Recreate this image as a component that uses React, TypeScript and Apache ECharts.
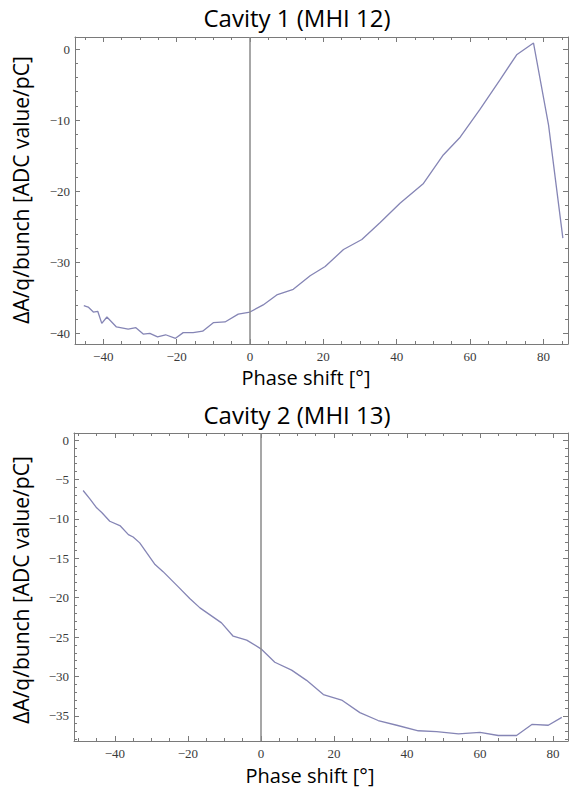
import React, { useEffect, useRef } from "react";
import * as echarts from "echarts";

// ---- Data ----
const cav1Phase = [-45.3, -44.1, -42.7, -41.5, -40.4, -39.0, -36.4, -33.2, -31.1, -29.1, -27.3, -25.2, -23.0, -20.3, -18.2, -15.5, -12.9, -10.0, -6.8, -3.2, 0, 3.6, 7.3, 11.8, 16.4, 20.5, 25.5, 30.5, 35.5, 40.9, 47.3, 52.7, 57.3, 62.7, 68.2, 72.7, 77.3, 81.4, 85.3];
const cav1Signal = [-36.1, -36.3, -37.0, -36.9, -38.6, -37.7, -39.1, -39.4, -39.2, -40.1, -40.0, -40.5, -40.2, -40.7, -39.9, -39.9, -39.7, -38.5, -38.4, -37.3, -37.0, -36.0, -34.6, -33.8, -31.9, -30.6, -28.2, -26.8, -24.4, -21.7, -18.9, -14.9, -12.4, -8.5, -4.3, -0.8, 0.85, -10.7, -26.6];

const cav2Phase = [-48.7, -46.8, -45.0, -43.6, -41.4, -38.5, -36.3, -35.0, -33.2, -29.0, -26.8, -22.7, -19.5, -16.7, -10.8, -7.6, -3.9, 0, 3.8, 8.4, 12.5, 17.1, 22.1, 27.1, 32.1, 37.2, 43.1, 48.1, 54.1, 60.0, 65.0, 70.0, 74.2, 78.7, 82.4];
const cav2Signal = [-6.4, -7.5, -8.6, -9.2, -10.3, -10.9, -12.0, -12.3, -13.05, -15.8, -16.7, -18.6, -20.1, -21.3, -23.2, -24.9, -25.4, -26.5, -28.2, -29.2, -30.5, -32.3, -33.0, -34.6, -35.6, -36.2, -36.9, -37.0, -37.3, -37.1, -37.5, -37.5, -36.1, -36.2, -35.2];

// Tick labels
const xTickLabels1 = [-40, -20, 0, 20, 40, 60, 80];
const yTickLabels1 = [-40, -30, -20, -10, 0];
const xTickLabels2 = [-40, -20, 0, 20, 40, 60, 80];
const yTickLabels2 = [-35, -30, -25, -20, -15, -10, -5, 0];

const titles = ["Cavity 1 (MHI 12)", "Cavity 2 (MHI 13)"];
const xName = "Phase shift [°]";
const yName = "ΔA/q/bunch [ADC value/pC]";

// Axis extents
const xRange1 = [-47.7, 86.7];
const yRange1 = [-41.5, 1.7];
const xRange2 = [-51.2, 84.1];
const yRange2 = [-38.2, 0.9];

function range(a: number, b: number, step: number) {
  const out: number[] = [];
  for (let v = a; v <= b + 1e-9; v += step) out.push(Math.round(v * 1000) / 1000);
  return out;
}

const xMinor1 = range(-45, 85, 5);
const yMinor1 = range(-40, 0, 2);
const xMinor2 = range(-50, 80, 5);
const yMinor2 = range(-38, 0, 1);

const FRAME = "#7a7a7a";
const LINE = "#8585b5";
const SERIF = "'Liberation Serif', 'DejaVu Serif', 'Times New Roman', serif";
const SANS = "'Open Sans', 'Noto Sans', sans-serif";
const fmt = (v: number) => String(v).replace("-", "\u2212");

function axesFor(
  grid: number,
  dim: "x" | "y",
  ext: number[],
  labels: number[],
  minor: number[]
) {
  const positions = dim === "x" ? ["bottom", "top"] : ["left", "right"];
  const res: any[] = [];
  positions.forEach((pos, pi) => {
    [true, false].forEach((major) => {
      res.push({
        type: "value",
        gridIndex: grid,
        position: pos,
        offset: 0,
        min: ext[0],
        max: ext[1],
        splitLine: { show: false },
        axisLine: { show: major, onZero: false, lineStyle: { color: FRAME, width: 1 } },
        axisTick: {
          show: true,
          inside: true,
          length: major ? 5 : 3,
          customValues: major ? labels : minor,
          lineStyle: { color: FRAME, width: 1 },
        },
        axisLabel: {
          show: major && pi === 0,
          customValues: labels,
          formatter: fmt,
          fontFamily: SERIF,
          fontSize: 13,
          color: "#3a3a3a",
          margin: dim === "x" ? 6 : 5,
        },
      });
    });
  });
  return res;
}

export default function App() {
  const ref = useRef<HTMLDivElement>(null);
  useEffect(() => {
    if (!ref.current) return;
    const chart = echarts.init(ref.current, null, { renderer: "svg" });
    const xAxes = [
      ...axesFor(0, "x", xRange1, xTickLabels1, xMinor1),
      ...axesFor(1, "x", xRange2, xTickLabels2, xMinor2),
    ];
    const yAxes = [
      ...axesFor(0, "y", yRange1, yTickLabels1, yMinor1),
      ...axesFor(1, "y", yRange2, yTickLabels2, yMinor2),
    ];
    const zeroLine = {
      silent: true,
      symbol: "none",
      label: { show: false },
      lineStyle: { color: "#8a8a8a", width: 1.5, type: "solid" },
      data: [{ xAxis: 0 }],
    };
    const textStyle = (extra: any) => ({
      fontFamily: SANS,
      fill: "#000",
      textAlign: "center",
      textVerticalAlign: "middle",
      ...extra,
    });
    chart.setOption({
      animation: false,
      backgroundColor: "#fff",
      textStyle: { fontFamily: SERIF },
      grid: [
        { left: 75, top: 37, width: 493, height: 307 },
        { left: 74, top: 433, width: 494, height: 308 },
      ],
      xAxis: xAxes,
      yAxis: yAxes,
      series: [
        {
          type: "line",
          xAxisIndex: 0,
          yAxisIndex: 0,
          data: cav1Phase.map((x, i) => [x, cav1Signal[i]]),
          showSymbol: false,
          lineStyle: { color: LINE, width: 1.3 },
          markLine: zeroLine,
        },
        {
          type: "line",
          xAxisIndex: 4,
          yAxisIndex: 4,
          data: cav2Phase.map((x, i) => [x, cav2Signal[i]]),
          showSymbol: false,
          lineStyle: { color: LINE, width: 1.3 },
          markLine: zeroLine,
        },
      ],
      graphic: [
        { type: "text", x: 297, y: 17, style: textStyle({ text: titles[0], fontSize: 24 }) },
        { type: "text", x: 297, y: 414, style: textStyle({ text: titles[1], fontSize: 24 }) },
        { type: "text", x: 306, y: 377, style: textStyle({ text: xName, fontSize: 20 }) },
        { type: "text", x: 310, y: 775, style: textStyle({ text: xName, fontSize: 20 }) },
        { type: "text", x: 21, y: 190, rotation: Math.PI / 2, style: textStyle({ text: yName, fontSize: 21 }) },
        { type: "text", x: 21, y: 590, rotation: Math.PI / 2, style: textStyle({ text: yName, fontSize: 21 }) },
      ],
    });
    return () => chart.dispose();
  }, []);
  return (
    <div
      ref={ref}
      style={{ position: "fixed", left: 0, top: 0, width: 571, height: 789 }}
    />
  );
}
